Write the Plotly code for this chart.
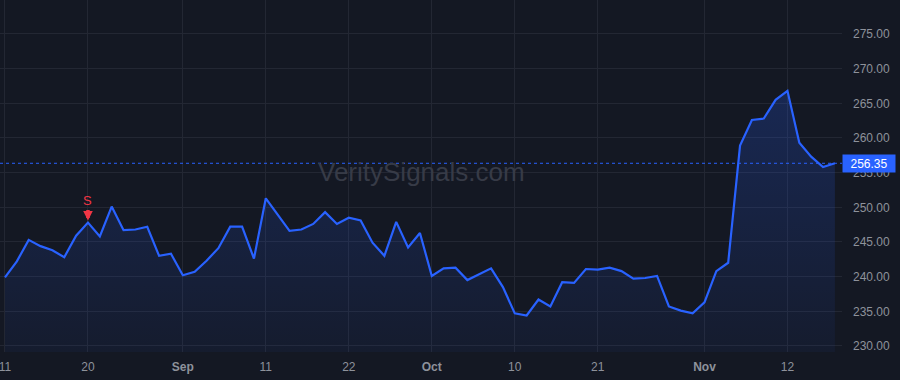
import plotly.graph_objects as go

dates = [
    "2025-08-11", "2025-08-12", "2025-08-13", "2025-08-14", "2025-08-15",
    "2025-08-18", "2025-08-19", "2025-08-20", "2025-08-21", "2025-08-22",
    "2025-08-25", "2025-08-26", "2025-08-27", "2025-08-28", "2025-08-29",
    "2025-09-02", "2025-09-03", "2025-09-04", "2025-09-05", "2025-09-08",
    "2025-09-09", "2025-09-10", "2025-09-11", "2025-09-12", "2025-09-15",
    "2025-09-16", "2025-09-17", "2025-09-18", "2025-09-19", "2025-09-22",
    "2025-09-23", "2025-09-24", "2025-09-25", "2025-09-26", "2025-09-29",
    "2025-09-30", "2025-10-01", "2025-10-02", "2025-10-03", "2025-10-06",
    "2025-10-07", "2025-10-08", "2025-10-09", "2025-10-10", "2025-10-13",
    "2025-10-14", "2025-10-15", "2025-10-16", "2025-10-17", "2025-10-20",
    "2025-10-21", "2025-10-22", "2025-10-23", "2025-10-24", "2025-10-27",
    "2025-10-28", "2025-10-29", "2025-10-30", "2025-10-31", "2025-11-03",
    "2025-11-04", "2025-11-05", "2025-11-06", "2025-11-07", "2025-11-10",
    "2025-11-11", "2025-11-12", "2025-11-13", "2025-11-14", "2025-11-17",
    "2025-11-18",
]

prices = [
    239.9, 242.2, 245.3, 244.4, 243.8, 242.8, 245.9, 247.8, 245.8, 250.1,
    246.7, 246.8, 247.2, 243.0, 243.3, 240.2, 240.7, 242.3, 244.1, 247.2,
    247.2, 242.6, 251.3, 248.9, 246.6, 246.8, 247.6, 249.3, 247.6, 248.5,
    248.1, 244.9, 243.0, 247.9, 244.2, 246.3, 240.1, 241.2, 241.3, 239.5,
    240.4, 241.2, 238.5, 234.7, 234.4, 236.7, 235.7, 239.2, 239.1, 241.1,
    241.0, 241.3, 240.8, 239.7, 239.8, 240.1, 235.7, 235.1, 234.7, 236.3,
    240.8, 242.0, 258.9, 262.6, 262.8, 265.5, 266.8, 259.3, 257.3, 255.8,
    256.35,
]

tick_dates = ["2025-08-11", "2025-08-20", "2025-09-02", "2025-09-11", "2025-09-22",
              "2025-10-01", "2025-10-10", "2025-10-21", "2025-11-03", "2025-11-12"]
tick_labels = ["11", "20", "<b>Sep</b>", "11", "22", "<b>Oct</b>", "10", "21", "<b>Nov</b>", "12"]
y_ticks = [230, 235, 240, 245, 250, 255, 260, 265, 270, 275]

signal_date = "2025-08-20"
signal_price = 247.8
signal_text = "S"
last_price = prices[-1]
watermark = "VeritySignals.com"

BG = "#141823"
GRID = "#232733"
BLUE = "#2962ff"
RED = "#f23645"
TXT = "#8e929b"
FONT = "Liberation Sans, Arial, sans-serif"

fig = go.Figure()
fig.add_trace(go.Scatter(
    x=dates, y=prices, mode="lines",
    line=dict(color=BLUE, width=2.2),
    fill="tozeroy",
    fillgradient=dict(type="vertical", start=229, stop=267,
                      colorscale=[[0, "rgba(41,98,255,0.05)"], [1, "rgba(41,98,255,0.22)"]]),
    hoverinfo="skip", showlegend=False,
))

fig.add_shape(type="line", xref="paper", x0=0, x1=1, yref="y", y0=last_price, y1=last_price,
              line=dict(color=BLUE, width=1, dash="dot"))

fig.add_annotation(xref="paper", x=1, yref="y", y=last_price, xanchor="left", yanchor="middle",
                   text=f"{last_price:.2f}", showarrow=False, bgcolor=BLUE,
                   font=dict(color="white", size=12, family=FONT),
                   width=50, height=15, borderpad=1)

# signal arrow
fig.add_annotation(x=signal_date, y=signal_price, text="", showarrow=True,
                   ax=0, ay=-14, arrowhead=2, arrowsize=0.55, arrowwidth=3.5, arrowcolor=RED,
                   standoff=2, startstandoff=0)
# signal label
fig.add_annotation(x=signal_date, y=signal_price, text=signal_text, showarrow=False,
                   yshift=22, font=dict(color=RED, size=13, family=FONT))

fig.add_annotation(xref="paper", yref="paper", x=0.5, y=0.51, text=watermark, showarrow=False,
                   font=dict(color="#373b47", size=26, family=FONT))

fig.update_layout(
    width=900, height=380,
    margin=dict(l=0, r=58, t=0, b=28),
    paper_bgcolor=BG, plot_bgcolor=BG,
    font=dict(family=FONT, color=TXT, size=12),
    xaxis=dict(type="category", range=[-0.42, 70.6], tickmode="array",
               tickvals=tick_dates, ticktext=tick_labels, showgrid=True, gridcolor=GRID,
               gridwidth=1, zeroline=False, showline=False, ticks="",
               tickfont=dict(color=TXT, size=12), ticklabelstandoff=6),
    yaxis=dict(side="right", range=[229.13, 279.9], tickmode="array", tickvals=y_ticks,
               tickformat=".2f", showgrid=True, gridcolor=GRID, gridwidth=1,
               zeroline=False, showline=False, ticks="",
               tickfont=dict(color=TXT, size=12), ticklabelstandoff=10),
)

fig.write_html("out.html")
